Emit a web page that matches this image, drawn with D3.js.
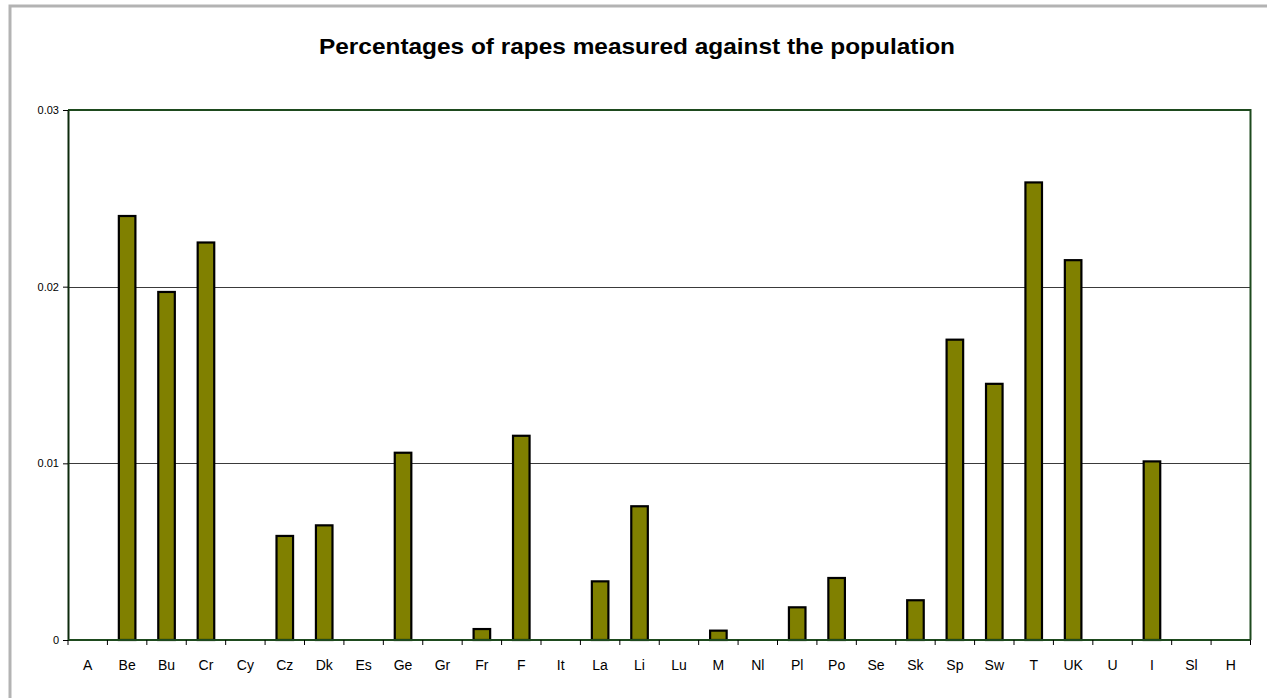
<!DOCTYPE html>
<html>
<head>
<meta charset="utf-8">
<script src="https://cdn.jsdelivr.net/npm/d3@7"></script>
<style>
  html, body { margin: 0; padding: 0; background: #fff; }
  svg { display: block; }
  text { font-family: Arial, "Liberation Sans", sans-serif; }
</style>
</head>
<body>
<svg id="chart" width="1267" height="698"></svg>
<script>
const titleText = "Percentages of rapes measured against the population";
const categories = ["A","Be","Bu","Cr","Cy","Cz","Dk","Es","Ge","Gr","Fr","F","It","La","Li","Lu","M","Nl","Pl","Po","Se","Sk","Sp","Sw","T","UK","U","I","Sl","H"];
const values = [0, 0.0240, 0.0197, 0.0225, 0, 0.00589, 0.00649, 0, 0.0106, 0, 0.00062, 0.01156, 0, 0.00332, 0.00757, 0, 0.00053, 0, 0.00185, 0.00351, 0, 0.00225, 0.0170, 0.0145, 0.0259, 0.0215, 0, 0.01011, 0, 0];
const yTicks = [0, 0.01, 0.02, 0.03];
const yTickLabels = ["0", "0.01", "0.02", "0.03"];

const svg = d3.select("#chart");
const W = 1267, H = 698;
const plot = { left: 68, right: 1250.5, top: 110, bottom: 640 };

// outer frame
svg.append("rect")
  .attr("x", 10).attr("y", 6)
  .attr("width", W + 20).attr("height", H + 20)
  .attr("fill", "none").attr("stroke", "#b3b3b3").attr("stroke-width", 3);

svg.append("text")
  .attr("x", 637).attr("y", 54)
  .attr("text-anchor", "middle")
  .attr("font-size", 22.5).attr("font-weight", "bold")
  .attr("textLength", 636).attr("lengthAdjust", "spacingAndGlyphs")
  .attr("fill", "#000")
  .text(titleText);

const x = d3.scaleBand().domain(categories).range([plot.left, plot.right]).paddingInner(0).paddingOuter(0);
const y = d3.scaleLinear().domain([0, 0.03]).range([plot.bottom, plot.top]);

// gridlines
svg.append("g").selectAll("line")
  .data(yTicks.filter(t => t > 0 && t < 0.03))
  .join("line")
  .attr("x1", plot.left).attr("x2", plot.right)
  .attr("y1", d => Math.round(y(d)) + 0.5).attr("y2", d => Math.round(y(d)) + 0.5)
  .attr("stroke", "#3a3a3a").attr("stroke-width", 1);

// plot border (top/right)
svg.append("path")
  .attr("d", `M${plot.left},${plot.top}H${plot.right}V${plot.bottom}`)
  .attr("fill", "none").attr("stroke", "#1e4a1e").attr("stroke-width", 2);

// bars
const barW = x.bandwidth() * 0.42;
svg.append("g").selectAll("rect")
  .data(categories.map((c, i) => ({ c, v: values[i] })).filter(d => d.v > 0))
  .join("rect")
  .attr("x", d => x(d.c) + (x.bandwidth() - barW) / 2)
  .attr("y", d => y(d.v))
  .attr("width", barW)
  .attr("height", d => y(0) - y(d.v))
  .attr("fill", "#808000")
  .attr("stroke", "#000").attr("stroke-width", 2.2);

// y axis
const yAxis = d3.axisLeft(y).tickValues(yTicks).tickFormat((d, i) => yTickLabels[i]).tickSize(5).tickSizeOuter(0);
const gy = svg.append("g").attr("transform", `translate(${plot.left},0)`).call(yAxis);
gy.select(".domain").attr("stroke", "#0d2a0d").attr("stroke-width", 2);
gy.selectAll(".tick line").attr("stroke", "#000");
gy.selectAll(".tick text").attr("font-size", 11).attr("fill", "#000").attr("x", -9)
  .attr("font-family", "Arial, 'Liberation Sans', sans-serif");

// x axis: ticks at band edges
const gx = svg.append("g");
gx.append("line")
  .attr("x1", plot.left).attr("x2", plot.right)
  .attr("y1", plot.bottom).attr("y2", plot.bottom)
  .attr("stroke", "#1e4a1e").attr("stroke-width", 2);
const edges = categories.map(c => x(c)).concat([plot.right]);
gx.selectAll("line.tk").data(edges).join("line").attr("class", "tk")
  .attr("x1", d => d).attr("x2", d => d)
  .attr("y1", plot.bottom).attr("y2", plot.bottom + 5)
  .attr("stroke", "#000").attr("stroke-width", 1);
gx.selectAll("text").data(categories).join("text")
  .attr("x", d => x(d) + x.bandwidth() / 2)
  .attr("y", 670)
  .attr("text-anchor", "middle")
  .attr("font-size", 14).attr("fill", "#000")
  .text(d => d);
</script>
</body>
</html>
